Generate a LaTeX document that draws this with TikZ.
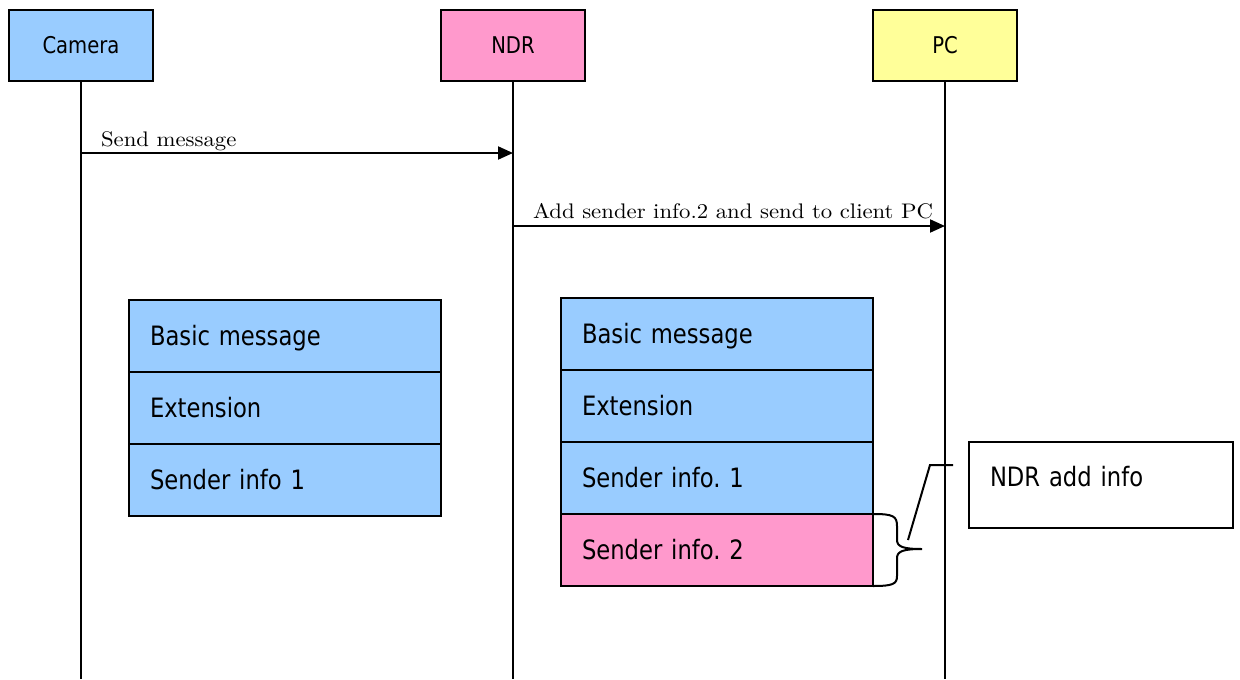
\documentclass[tikz,border=0pt]{standalone}
\usepackage{fontspec}
\usetikzlibrary{arrows.meta}
\newfontfamily\boxfont{DejaVu Sans}[FakeStretch=0.85]
\newfontfamily\lblfont{lmroman10-regular.otf}[FakeStretch=1.08]
\definecolor{camblue}{HTML}{99CCFF}
\definecolor{ndrpink}{HTML}{FF99CC}
\definecolor{pcyellow}{HTML}{FFFF99}
\tikzset{
  header/.style={draw, line width=1.5pt, minimum width=108pt, minimum height=53.25pt,
    inner sep=0pt, font=\boxfont\fontsize{17.3}{20}\selectfont,
    text height=12.6pt, text depth=0pt},
  field/.style={draw, line width=1.5pt, fill=camblue, text width=202.5pt, align=left,
    inner xsep=15.75pt, inner ysep=0pt, minimum height=54pt,
    font=\boxfont\fontsize{20}{24}\selectfont, text height=14.6pt, text depth=0pt},
  notebox/.style={draw, line width=1.5pt, fill=white, text width=166.5pt, align=left,
    inner xsep=15.75pt, inner ysep=18.5pt,
    font=\boxfont\fontsize{20}{24}\selectfont, text height=14.6pt, text depth=12.9pt},
  lifeline/.style={line width=1.5pt},
  msg/.style={line width=1.5pt, -{Triangle[length=11.25pt, width=9.75pt]}},
  msglabel/.style={font=\lblfont\fontsize{15.8}{18}\selectfont, inner sep=0pt, anchor=base west},
  thinline/.style={line width=1.5pt},
}
\begin{document}
\frenchspacing
\begin{tikzpicture}[x=0.75pt, y=-0.75pt]
\useasboundingbox (0,0) rectangle (1240,679);

% participants
\node[header, fill=camblue]  (cam) at (81,45.5)  {Camera};
\node[header, fill=ndrpink]  (ndr) at (513,45.5) {NDR};
\node[header, fill=pcyellow] (pc)  at (945,45.5) {PC};

% lifeline ends
\coordinate (camEnd) at (81,679);
\coordinate (ndrEnd) at (513,679);
\coordinate (pcEnd)  at (945,679);
\draw[lifeline] (cam.south) -- (camEnd);
\draw[lifeline] (ndr.south) -- (ndrEnd);
\draw[lifeline] (pc.south)  -- (pcEnd);

% messages
\coordinate (m1s) at (81,153);
\coordinate (m1e) at (513,153);
\coordinate (m2s) at (513,226);
\coordinate (m2e) at (945,226);
\draw[msg] (m1s) -- (m1e)
  node[msglabel, pos=0, xshift=14.25pt, yshift=5.25pt] (lbl1) {Send message};
\draw[msg] (m2s) -- (m2e)
  node[msglabel, pos=0, xshift=14.25pt, yshift=6pt] (lbl2) {Add sender info.2 and send to client PC};

% message sent by the camera
\node[field] (a1) at (285,336) {Basic message};
\node[field] (a2) at (285,408) {Extension};
\node[field] (a3) at (285,480) {Sender info 1};

% message forwarded by the NDR
\node[field] (b1) at (717,334) {Basic message};
\node[field] (b2) at (717,406) {Extension};
\node[field] (b3) at (717,478) {Sender info. 1};
\node[field, fill=ndrpink] (b4) at (717,550) {Sender info. 2};

% brace over the added field
\coordinate (brTop) at (873,514);
\coordinate (brTip) at (922,549);
\coordinate (brBot) at (873,586);
\draw[thinline] (brTop) .. controls (893,514) and (897,516) .. (897,526)
  -- (897,540) .. controls (897,547) and (904,549) .. (brTip)
  .. controls (904,549) and (897,551) .. (897,558)
  -- (897,576) .. controls (897,584) and (893,586) .. (brBot);

% callout
\node[notebox] (note) at (1101,485) {NDR add info};
\coordinate (cA) at (908,540);
\coordinate (cB) at (930,465);
\coordinate (cC) at (953,465);
\draw[thinline] (cA) -- (cB) -- (cC);
\end{tikzpicture}
\end{document}
